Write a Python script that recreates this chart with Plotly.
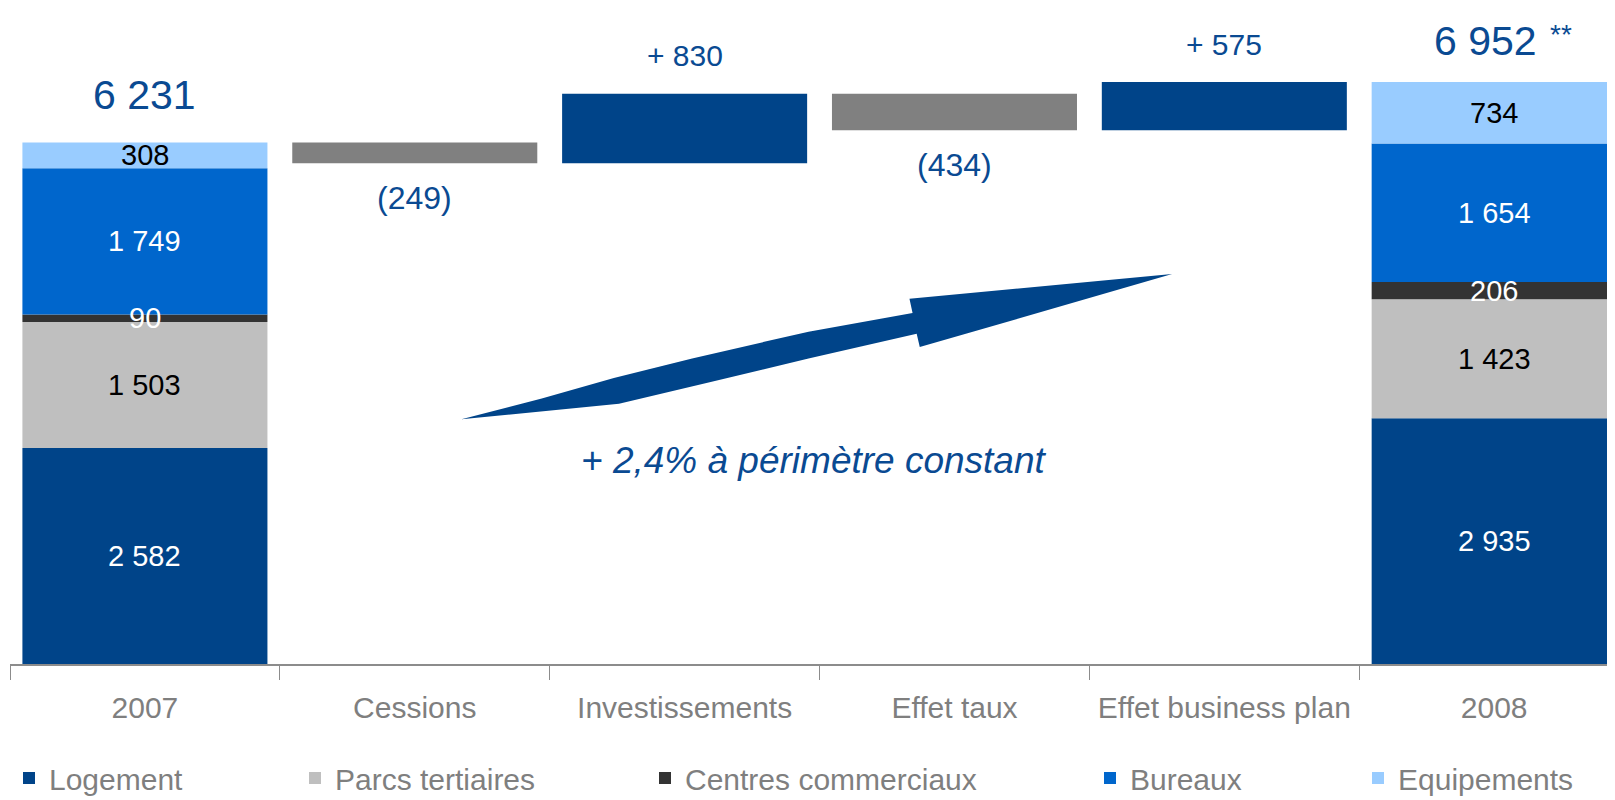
import numpy as np
import plotly.graph_objects as go

# ---------------- data ----------------
categories = ["2007", "Cessions", "Investissements", "Effet taux", "Effet business plan", "2008"]
segments = ["Logement", "Parcs tertiaires", "Centres commerciaux", "Bureaux", "Equipements"]
values_2007 = [2582, 1503, 90, 1749, 308]
values_2008 = [2935, 1423, 206, 1654, 734]
total_2007 = 6231
total_2008 = 6952
step_labels = ["Cessions", "Investissements", "Effet taux", "Effet business plan"]
step_values = [-249, 830, -434, 575]

# ---------------- style ----------------
seg_colors = ["#004489", "#bfbfbf", "#333333", "#0066cc", "#99ccff"]
seg_text_colors = ["white", "black", "white", "white", "black"]
pos_color = "#004489"
neg_color = "#808080"
txt_blue = "#0a4a92"
grey_txt = "#7f7f7f"
FONT = "Liberation Sans, Arial, sans-serif"

OFF = 8                      # page body margin
W, H = 1615 - OFF, 800 - OFF
ML, MT = 2, 0
PH = 656
MB = H - MT - PH
PW = W - ML
slot_px = 269.85
x_max = PW / slot_px - 0.5
y_px_per_unit = 0.0837
y_max = PH / y_px_per_unit
SC = 1615 / 1568             # reference shrink factor

legend_text_px = [50, 336, 686, 1131, 1399]   # screen px where legend texts start

fig = go.Figure()

cum07 = np.concatenate([[0], np.cumsum(values_2007)[:-1]]).tolist()
cum08 = np.concatenate([[0], np.cumsum(values_2008)[:-1]]).tolist()
legend_ids = ["legend"] + [f"legend{i}" for i in range(2, len(segments) + 1)]
for i, name in enumerate(segments):
    fig.add_trace(go.Bar(
        name=name, x=["2007", "2008"], y=[values_2007[i], values_2008[i]],
        base=[cum07[i], cum08[i]], marker=dict(color=seg_colors[i], line=dict(width=0)),
        hoverinfo="skip", legend=legend_ids[i],
    ))

running = total_2007
bases, heights, colors = [], [], []
for v in step_values:
    if v < 0:
        bases.append(running + v); heights.append(-v); colors.append(neg_color)
    else:
        bases.append(running); heights.append(v); colors.append(pos_color)
    running += v
fig.add_trace(go.Bar(
    x=step_labels, y=heights, base=bases, showlegend=False,
    marker=dict(color=colors, line=dict(width=0)), hoverinfo="skip",
))

def fmt(n):
    return f"{abs(n):,}".replace(",", " ")

def cx(cat):
    return categories.index(cat)

annotations = []
for cat, vals, cums in (("2007", values_2007, cum07), ("2008", values_2008, cum08)):
    for i, v in enumerate(vals):
        annotations.append(dict(
            x=cx(cat), y=cums[i] + v / 2, text=fmt(v), showarrow=False,
            font=dict(family=FONT, size=29, color=seg_text_colors[i]),
            xanchor="center", yanchor="middle",
        ))

for lab, b, h, v in zip(step_labels, bases, heights, step_values):
    if v < 0:
        annotations.append(dict(x=cx(lab), y=b, text=f"({fmt(v)})", showarrow=False, yshift=-35,
                                font=dict(family=FONT, size=32, color=txt_blue), yanchor="middle"))
    else:
        annotations.append(dict(x=cx(lab), y=b + h, text=f"+ {fmt(v)}", showarrow=False, yshift=38,
                                font=dict(family=FONT, size=30, color=txt_blue), yanchor="middle"))

annotations.append(dict(x=cx("2007"), y=sum(values_2007), text=fmt(total_2007), showarrow=False, yshift=47,
                        font=dict(family=FONT, size=41, color=txt_blue), yanchor="middle"))
annotations.append(dict(x=cx("2008"), y=sum(values_2008), text=fmt(total_2008), showarrow=False, yshift=41,
                        xshift=-9, font=dict(family=FONT, size=41, color=txt_blue), yanchor="middle"))
annotations.append(dict(x=cx("2008"), y=sum(values_2008), text="**", showarrow=False, yshift=48, xshift=54,
                        font=dict(family=FONT, size=28, color=txt_blue), xanchor="left", yanchor="middle"))

def to_paper(xs, ys):
    fx = xs * SC - OFF
    fy = ys * SC - OFF
    return (fx - ML) / PW, (PH + MT - fy) / PH

nx, ny = to_paper(np.array([790.0]), np.array([447.0]))
annotations.append(dict(xref="paper", yref="paper", x=nx[0], y=ny[0], text="+ 2,4% à périmètre constant",
                        showarrow=False, xanchor="center", yanchor="middle",
                        font=dict(family=FONT, size=37, color=txt_blue, style="italic")))

arrow_pts = np.array([
    (448, 407), (526, 387), (596, 367), (672, 348), (785, 322), (886, 304),
    (883, 290), (1138, 266), (893, 337), (890, 324),
    (785, 348), (690, 371), (601, 392),
], dtype=float)
ax_, ay_ = to_paper(arrow_pts[:, 0], arrow_pts[:, 1])
path = "M " + " L ".join(f"{a:.5f},{b:.5f}" for a, b in zip(ax_, ay_)) + " Z"

legends = {}
for lid, tx in zip(legend_ids, legend_text_px):
    legends[lid] = dict(
        orientation="h", xref="paper", x=(tx - 41 - OFF - ML) / PW, xanchor="left",
        yref="container", y=(H - (778 - OFF)) / H, yanchor="middle",
        font=dict(family=FONT, size=30, color=grey_txt),
        itemclick=False, itemdoubleclick=False, bgcolor="rgba(0,0,0,0)",
    )

fig.update_layout(
    width=W, height=H,
    margin=dict(l=ML, r=0, t=MT, b=MB, pad=0, autoexpand=False),
    barmode="overlay", bargap=0.092,
    plot_bgcolor="white", paper_bgcolor="white",
    annotations=annotations,
    shapes=[dict(type="path", path=path, xref="paper", yref="paper",
                 fillcolor=pos_color, line=dict(width=0))],
    xaxis=dict(type="category", categoryorder="array", categoryarray=categories,
               range=[-0.5, x_max], showline=True, linecolor="#8c8c8c", linewidth=1.5,
               ticks="outside", tickson="boundaries", ticklen=14, tickcolor="#8c8c8c", tickwidth=1,
               tickfont=dict(family=FONT, size=30, color=grey_txt), ticklabelstandoff=16,
               showgrid=False, zeroline=False, fixedrange=True, automargin=False),
    yaxis=dict(range=[0, y_max], visible=False, fixedrange=True, automargin=False),
    showlegend=True,
    **legends,
)

fig.write_html("out.html")
